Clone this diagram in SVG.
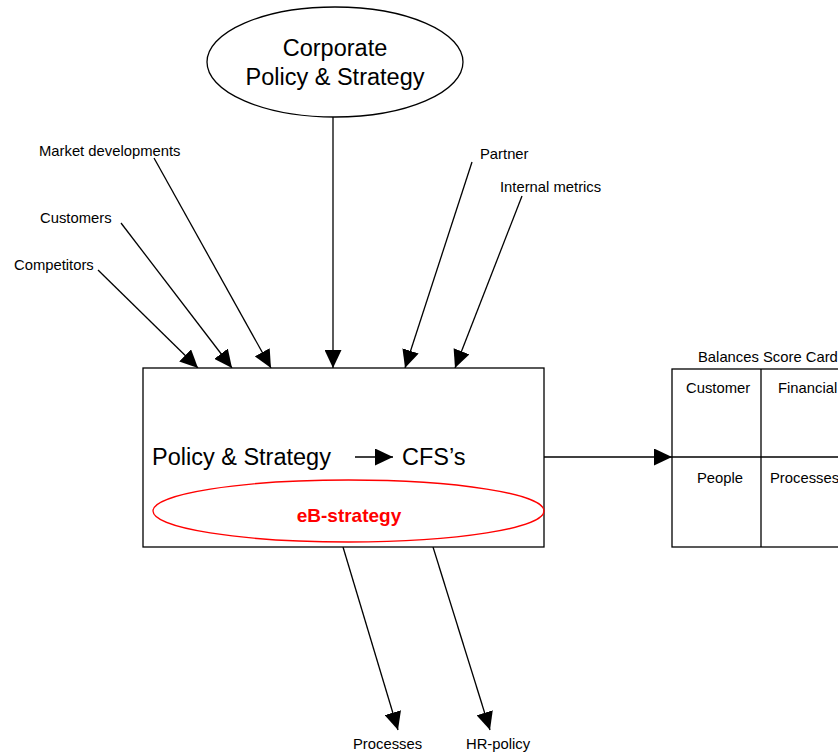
<svg xmlns="http://www.w3.org/2000/svg" width="838" height="753" viewBox="0 0 838 753">
  <style>
    text { font-family: "Liberation Sans", Arial, sans-serif; fill: #000; }
    .lbl { font-size: 14.8px; }
    .big { font-size: 23.5px; }
    .shape { fill: #fff; stroke: #000; stroke-width: 1.3; }
    .conn { fill: none; stroke: #000; stroke-width: 1.3; marker-end: url(#head); }
  </style>
  <defs>
    <marker id="head" markerUnits="userSpaceOnUse" markerWidth="18" markerHeight="17" refX="18" refY="8.5" orient="auto" viewBox="0 0 18 17">
      <path d="M0,0 L18,8.5 L0,17 Z" fill="#000"/>
    </marker>
  </defs>

  <g id="connectors">
    <line class="conn" x1="333" y1="117" x2="333" y2="368"/>
    <line class="conn" x1="98" y1="270" x2="198" y2="368"/>
    <line class="conn" x1="121" y1="223" x2="232" y2="368"/>
    <line class="conn" x1="154" y1="158" x2="271" y2="368"/>
    <line class="conn" x1="472" y1="162" x2="405" y2="368"/>
    <line class="conn" x1="522" y1="196" x2="455" y2="368"/>
    <line class="conn" x1="343" y1="547" x2="398" y2="730"/>
    <line class="conn" x1="433" y1="547" x2="490" y2="730"/>
    <line class="conn" x1="544" y1="457" x2="672" y2="457"/>
  </g>

  <g id="corporate">
    <ellipse class="shape" cx="335" cy="62" rx="128" ry="55"/>
    <text class="big" x="335" y="56" text-anchor="middle">Corporate</text>
    <text class="big" x="335" y="85" text-anchor="middle">Policy &amp; Strategy</text>
  </g>

  <g id="inputs">
    <text class="lbl" x="39" y="156">Market developments</text>
    <text class="lbl" x="40" y="223">Customers</text>
    <text class="lbl" x="14" y="270">Competitors</text>
    <text class="lbl" x="480" y="159">Partner</text>
    <text class="lbl" x="500" y="192">Internal metrics</text>
  </g>

  <g id="policy-strategy">
    <rect class="shape" x="143" y="368" width="401" height="179"/>
    <text class="big" x="152" y="465">Policy &amp; Strategy</text>
    <line class="conn" x1="355" y1="457" x2="393" y2="457"/>
    <text class="big" x="402" y="465">CFS’s</text>
    <ellipse cx="348.5" cy="511" rx="195.5" ry="31" fill="none" stroke="#f00" stroke-width="1.3"/>
    <text x="349" y="522" text-anchor="middle" style="font-size:19px;font-weight:bold;fill:#f00">eB-strategy</text>
  </g>

  <g id="balanced-scorecard">
    <text class="lbl" x="698" y="362">Balances Score Card</text>
    <rect class="shape" x="672" y="369" width="178" height="178"/>
    <line x1="761" y1="369" x2="761" y2="547" stroke="#000" stroke-width="1.3"/>
    <line x1="672" y1="457" x2="850" y2="457" stroke="#000" stroke-width="1.3"/>
    <text class="lbl" x="686" y="393">Customer</text>
    <text class="lbl" x="778" y="393">Financial</text>
    <text class="lbl" x="697" y="483">People</text>
    <text class="lbl" x="770" y="483">Processes</text>
  </g>

  <g id="outputs">
    <text class="lbl" x="353" y="749">Processes</text>
    <text class="lbl" x="466" y="749">HR-policy</text>
  </g>
</svg>
